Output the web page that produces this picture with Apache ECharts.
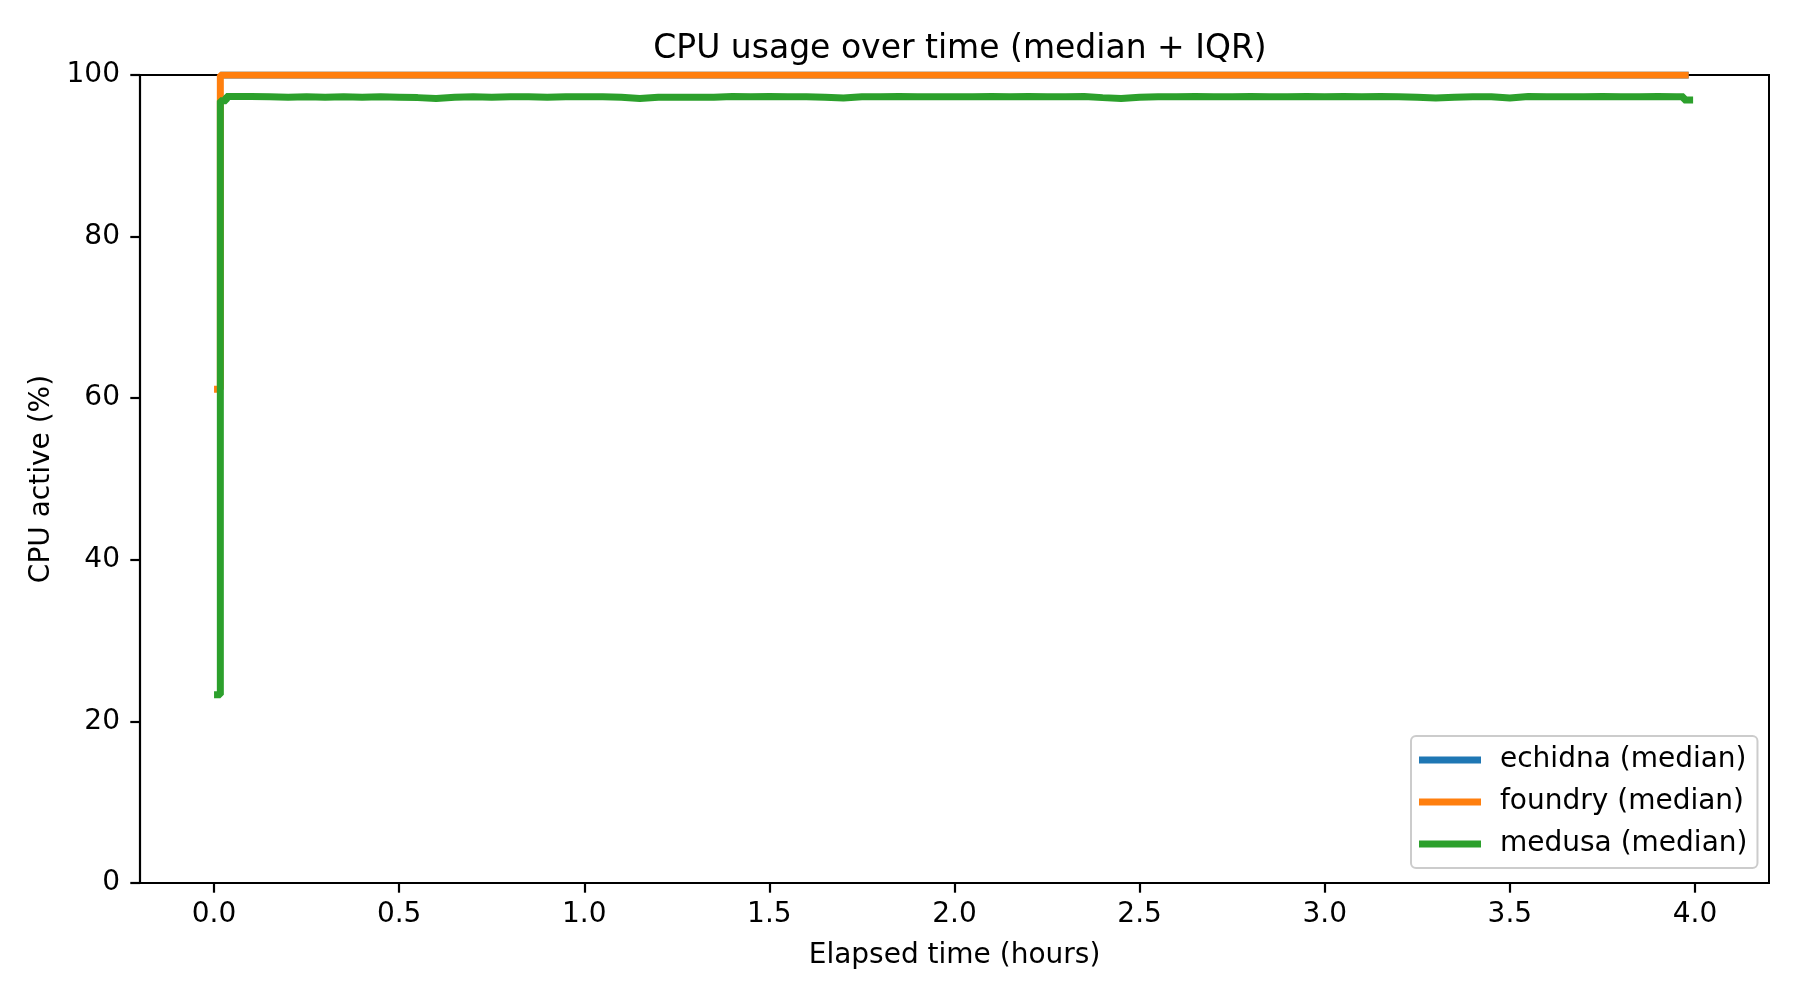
<!DOCTYPE html>
<html>
<head>
<meta charset="utf-8">
<script src="https://cdn.jsdelivr.net/npm/echarts@6/dist/echarts.min.js"></script>
<style>
  html, body { margin: 0; padding: 0; background: #fff; }
  #main { width: 1800px; height: 1000px; }
</style>
</head>
<body>
<div id="main"></div>
<script>
var myChart = echarts.init(document.getElementById('main'));

// elapsed time in hours, CPU active in %
var echidnaTime = [0.017, 3.983];
var echidnaCpu = [100, 100];

var foundryTime = [0, 0.017, 3.983];
var foundryCpu = [61.1, 100, 100];

var medusaTime = [0, 0.017, 0.033,
    0.05, 0.10, 0.15, 0.20, 0.25, 0.30, 0.35, 0.40, 0.45, 0.50,
    0.55, 0.60, 0.65, 0.70, 0.75, 0.80, 0.85, 0.90, 0.95, 1.00,
    1.05, 1.10, 1.15, 1.20, 1.25, 1.30, 1.35, 1.40, 1.45, 1.50,
    1.55, 1.60, 1.65, 1.70, 1.75, 1.80, 1.85, 1.90, 1.95, 2.00,
    2.05, 2.10, 2.15, 2.20, 2.25, 2.30, 2.35, 2.40, 2.45, 2.50,
    2.55, 2.60, 2.65, 2.70, 2.75, 2.80, 2.85, 2.90, 2.95, 3.00,
    3.05, 3.10, 3.15, 3.20, 3.25, 3.30, 3.35, 3.40, 3.45, 3.50,
    3.55, 3.60, 3.65, 3.70, 3.75, 3.80, 3.85, 3.90, 3.95, 3.97, 3.995];
var medusaCpu = [23.3, 96.8, 97.35,
    97.35, 97.3, 97.25, 97.3, 97.25, 97.3, 97.25, 97.3, 97.25, 97.2,
    97.1, 97.25, 97.3, 97.25, 97.3, 97.3, 97.25, 97.3, 97.3, 97.3,
    97.25, 97.1, 97.25, 97.25, 97.25, 97.25, 97.35, 97.3, 97.35, 97.3,
    97.3, 97.25, 97.15, 97.3, 97.3, 97.35, 97.3, 97.3, 97.3, 97.3,
    97.35, 97.3, 97.35, 97.3, 97.3, 97.35, 97.2, 97.1, 97.25, 97.3,
    97.3, 97.35, 97.3, 97.3, 97.35, 97.3, 97.3, 97.35, 97.3, 97.35,
    97.3, 97.35, 97.3, 97.25, 97.15, 97.25, 97.3, 97.3, 97.15, 97.35,
    97.3, 97.3, 97.3, 97.35, 97.3, 97.3, 97.35, 97.3, 97.3, 96.9, 96.9];

var xTicks = [0, 0.5, 1, 1.5, 2, 2.5, 3, 3.5, 4];
var yTicks = [0, 20, 40, 60, 80, 100];

function pairs(xs, ys) {
    return xs.map(function (x, i) { return [x, ys[i]]; });
}

var font = 'DejaVu Sans';

var option = {
    animation: false,
    backgroundColor: '#ffffff',
    textStyle: { fontFamily: font },
    title: {
        text: 'CPU usage over time (median + IQR)',
        left: 955,
        textAlign: 'center',
        top: 28,
        textStyle: { fontFamily: font, fontSize: 33, fontWeight: 'normal', color: '#000' }
    },
    legend: {
        orient: 'vertical',
        left: 1411,
        top: 736,
        padding: [8, 10, 8, 8],
        itemGap: 10,
        itemWidth: 62,
        itemHeight: 7,
        icon: 'rect',
        borderColor: '#cccccc',
        borderWidth: 2,
        borderRadius: 5,
        backgroundColor: 'rgba(255,255,255,0.8)',
        textStyle: { fontFamily: font, fontSize: 28, color: '#000', lineHeight: 32, padding: [0, 0, 0, 14] },
        data: ['echidna (median)', 'foundry (median)', 'medusa (median)']
    },
    grid: {
        left: 140,
        right: 31,
        top: 75,
        bottom: 117,
        show: true,
        borderColor: '#000',
        borderWidth: 2,
        backgroundColor: 'transparent'
    },
    xAxis: {
        type: 'value',
        min: -0.2,
        max: 4.2,
        name: 'Elapsed time (hours)',
        nameLocation: 'middle',
        nameGap: 59,
        nameTextStyle: { fontFamily: font, fontSize: 28, color: '#000' },
        axisLine: { show: true, onZero: false, lineStyle: { color: '#000', width: 2.2 } },
        axisTick: { show: true, length: 9.7, lineStyle: { color: '#000', width: 2.2 }, customValues: xTicks },
        axisLabel: {
            fontFamily: font, fontSize: 28, color: '#000', margin: 18,
            customValues: xTicks,
            formatter: function (v) { return v.toFixed(1); }
        },
        splitLine: { show: false }
    },
    yAxis: {
        type: 'value',
        min: 0,
        max: 100,
        interval: 20,
        name: 'CPU active (%)',
        nameLocation: 'middle',
        nameGap: 82,
        nameTextStyle: { fontFamily: font, fontSize: 28, color: '#000' },
        axisLine: { show: true, onZero: false, lineStyle: { color: '#000', width: 2.2 } },
        axisTick: { show: true, length: 9.7, lineStyle: { color: '#000', width: 2.2 }, customValues: yTicks },
        axisLabel: { fontFamily: font, fontSize: 28, color: '#000', margin: 20, customValues: yTicks },
        splitLine: { show: false }
    },
    series: [
        {
            name: 'echidna (median)',
            type: 'line',
            step: 'end',
            showSymbol: false,
            color: '#1f77b4',
            lineStyle: { width: 7, color: '#1f77b4' },
            data: pairs(echidnaTime, echidnaCpu)
        },
        {
            name: 'foundry (median)',
            type: 'line',
            step: 'end',
            showSymbol: false,
            color: '#ff7f0e',
            lineStyle: { width: 7, color: '#ff7f0e' },
            data: pairs(foundryTime, foundryCpu)
        },
        {
            name: 'medusa (median)',
            type: 'line',
            step: 'end',
            showSymbol: false,
            color: '#2ca02c',
            lineStyle: { width: 7, color: '#2ca02c' },
            data: pairs(medusaTime, medusaCpu)
        }
    ]
};

myChart.setOption(option);
</script>
</body>
</html>
